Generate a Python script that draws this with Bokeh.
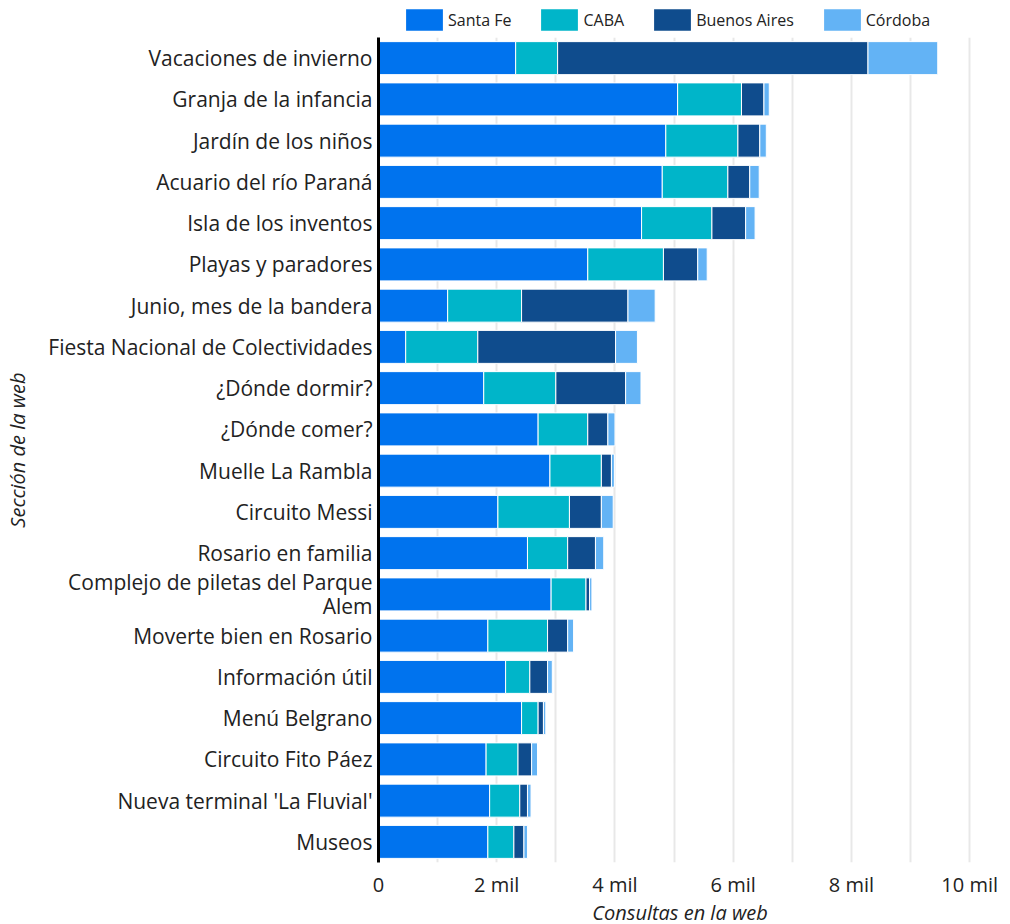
from bokeh.plotting import figure
from bokeh.layouts import column
from bokeh.models import ColumnDataSource, FixedTicker, Legend, LegendItem, Range1d
from bokeh.embed import file_html
from bokeh.resources import INLINE

categories = [
    "Vacaciones de invierno", "Granja de la infancia", "Jardín de los niños",
    "Acuario del río Paraná", "Isla de los inventos", "Playas y paradores",
    "Junio, mes de la bandera", "Fiesta Nacional de Colectividades",
    "¿Dónde dormir?", "¿Dónde comer?", "Muelle La Rambla", "Circuito Messi",
    "Rosario en familia", "Complejo de piletas del Parque\nAlem",
    "Moverte bien en Rosario", "Información útil", "Menú Belgrano",
    "Circuito Fito Páez", "Nueva terminal 'La Fluvial'", "Museos",
]
santa_fe = [2320, 5060, 4860, 4800, 4450, 3540, 1170, 460, 1780, 2700, 2900,
            2020, 2520, 2920, 1850, 2150, 2420, 1820, 1880, 1850]
caba = [710, 1080, 1220, 1110, 1190, 1280, 1250, 1220, 1220, 840, 870,
        1210, 680, 590, 1010, 410, 280, 540, 510, 440]
buenos_aires = [5250, 380, 370, 370, 570, 580, 1800, 2330, 1180, 340, 170,
                540, 470, 60, 340, 300, 90, 230, 130, 170]
cordoba = [1180, 90, 110, 160, 160, 160, 460, 370, 260, 120, 50,
           200, 140, 40, 100, 80, 40, 100, 60, 60]

series_names = ["Santa Fe", "CABA", "Buenos Aires", "Córdoba"]
series_keys = ["santa_fe", "caba", "buenos_aires", "cordoba"]
colors = ["#0073EE", "#00B5C9", "#0F4C8D", "#63B3F5"]

xtick_values = [0, 2000, 4000, 6000, 8000, 10000]
xtick_labels = ["0", "2 mil", "4 mil", "6 mil", "8 mil", "10 mil"]
xgrid_values = [1000 * i for i in range(11)]

FONT = "Open Sans"

source = ColumnDataSource(dict(
    y=list(range(len(categories))),
    santa_fe=santa_fe, caba=caba, buenos_aires=buenos_aires, cordoba=cordoba,
))

# ---- legend strip (separate small figure holding only the legend) ----
lg = figure(width=1000, height=37, output_backend="svg", toolbar_location=None,
            x_range=Range1d(0, 1), y_range=Range1d(0, 1),
            min_border_left=0, min_border_right=0, min_border_top=0, min_border_bottom=0)
lg.xaxis.visible = False
lg.yaxis.visible = False
lg.grid.grid_line_color = None
lg.outline_line_color = None
# legend stubs kept outside the visible range, so only their legend swatches show
stub = ColumnDataSource(dict(x=[-5], y=[-5]))
dummies = [lg.rect(x="x", y="y", width=0.1, height=0.1, source=stub,
                   fill_color=c, line_color=None) for c in colors]
legend = Legend(items=[LegendItem(label=n, renderers=[r], index=0) for n, r in zip(series_names, dummies)],
                orientation="horizontal", location=(23, 4),
                glyph_width=46, glyph_height=27, label_standoff=1, spacing=25,
                padding=2, margin=0, border_line_color=None, background_fill_alpha=0,
                label_text_font=FONT, label_text_font_size="16px",
                label_text_color="#222222")
lg.add_layout(legend, "center")

# ---- main chart ----
p = figure(frame_width=603, frame_height=825, output_backend="svg", toolbar_location=None,
           x_range=Range1d(0, 10200), y_range=Range1d(len(categories) - 0.5, -0.5),
           min_border_left=378, min_border_right=19, min_border_top=0,
           min_border_bottom=0)
p.outline_line_color = None

p.hbar_stack(series_keys, y="y", height=0.8, color=colors,
             line_color="white", line_width=1, source=source)

# x axis
p.xaxis.ticker = FixedTicker(ticks=xtick_values)
p.xaxis.major_label_overrides = {v: l for v, l in zip(xtick_values, xtick_labels)}
p.xaxis.axis_line_color = None
p.xaxis.major_tick_line_color = None
p.xaxis.minor_tick_line_color = None
p.xaxis.major_label_text_font = FONT
p.xaxis.major_label_text_font_size = "20px"
p.xaxis.major_label_text_color = "#222222"
p.xaxis.major_label_standoff = 2
p.xaxis.axis_label = "Consultas en la web"
p.xaxis.axis_label_text_font = FONT
p.xaxis.axis_label_text_font_size = "20px"
p.xaxis.axis_label_text_font_style = "italic"
p.xaxis.axis_label_text_color = "#222222"
p.xaxis.axis_label_standoff = -2

p.xgrid.ticker = FixedTicker(ticks=xgrid_values)
p.xgrid.grid_line_color = "#e8e8e8"
p.xgrid.grid_line_width = 2
p.ygrid.grid_line_color = None

# y axis
p.yaxis.ticker = FixedTicker(ticks=list(range(len(categories))))
p.yaxis.major_label_overrides = {i: c for i, c in enumerate(categories)}
p.yaxis.axis_line_color = "black"
p.yaxis.axis_line_width = 3
p.yaxis.major_tick_line_color = None
p.yaxis.minor_tick_line_color = None
p.yaxis.major_label_text_font = FONT
p.yaxis.major_label_text_font_size = "21px"
p.yaxis.major_label_text_line_height = 0.85
p.yaxis.major_label_text_color = "#222222"
p.yaxis.major_label_standoff = 0
p.yaxis.axis_label = "Sección de la web"
p.yaxis.axis_label_text_font = FONT
p.yaxis.axis_label_text_font_size = "20px"
p.yaxis.axis_label_text_font_style = "italic"
p.yaxis.axis_label_text_color = "#222222"
p.yaxis.axis_label_standoff = 14

layout = column(lg, p, spacing=0)
open("out.html", "w").write(file_html(layout, INLINE))
